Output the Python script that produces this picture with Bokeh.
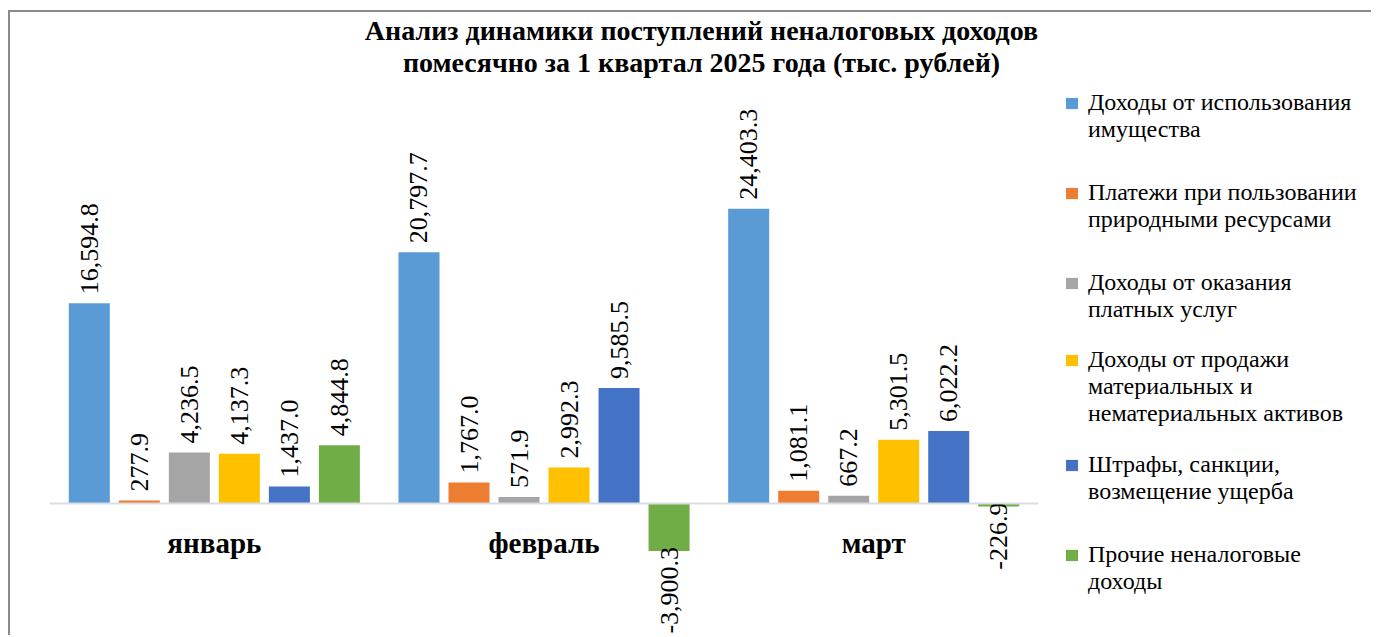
import numpy as np
from bokeh.plotting import figure
from bokeh.models import Range1d, Legend, LegendItem, Label, FixedTicker
from bokeh.core.properties import value
from bokeh.embed import file_html
from bokeh.resources import INLINE

# ---------------- data ----------------
months = ["январь", "февраль", "март"]
series_names = [
    "Доходы от использования\nимущества",
    "Платежи при пользовании\nприродными ресурсами",
    "Доходы от оказания\nплатных услуг",
    "Доходы от продажи\nматериальных и\nнематериальных активов",
    "Штрафы, санкции,\nвозмещение ущерба",
    "Прочие неналоговые\nдоходы",
]
property_income = [16594.8, 20797.7, 24403.3]
natural_resources = [277.9, 1767.0, 1081.1]
paid_services = [4236.5, 571.9, 667.2]
asset_sales = [4137.3, 2992.3, 5301.5]
fines = [1437.0, 9585.5, 6022.2]
other_income = [4844.8, -3900.3, -226.9]
title_text = "Анализ динамики поступлений неналоговых доходов\nпомесячно за 1 квартал 2025 года (тыс. рублей)"

series_values = [property_income, natural_resources, paid_services,
                 asset_sales, fines, other_income]
colors = ["#5b9bd5", "#ed7d31", "#a5a5a5", "#ffc000", "#4472c4", "#70ad47"]

# ---------------- layout ----------------
W, H = 1363, 625
CANVAS_TOP = 12
STEP = 0.1517
BAR_W = 0.1244
SERIF = "Liberation Serif"
LEG_X = 1054
LEG_LINE_H = 27
LEG_FIRST_LINE_Y = [102, 193, 283, 360, 465, 555]   # page pixel rows (layout)

p = figure(width=W, height=H, output_backend="svg", toolbar_location=None,
           x_range=Range1d(-0.6183, 3.516), y_range=Range1d(-11059, 40637),
           min_border=0)
p.styles = {"border-top": "2px solid #898989", "border-left": "2px solid #898989",
            "margin-top": "10px", "margin-left": "8px"}
p.outline_line_color = None
p.grid.visible = False
p.yaxis.visible = False
p.background_fill_color = "white"

# invisible renderer used for the continuation lines of the legend labels
blank = p.vbar(x=[], top=[], width=BAR_W, fill_color=None, line_color=None)

idx = np.arange(len(months))
n = len(series_values)
for i, (vals, col, name) in enumerate(zip(series_values, colors, series_names)):
    xs = idx + (i - (n - 1) / 2) * STEP
    r = p.vbar(x=xs, top=vals, bottom=0, width=BAR_W, fill_color=col, line_color=None)

    lines = name.split("\n")
    leg_items = [LegendItem(label=lines[0], renderers=[r])]
    leg_items += [LegendItem(label=t, renderers=[blank]) for t in lines[1:]]
    bottom_px = LEG_FIRST_LINE_Y[i] - LEG_LINE_H / 2 + LEG_LINE_H * len(lines)
    vy = int(round(CANVAS_TOP + H - bottom_px))
    leg = Legend(items=leg_items, location=(LEG_X, vy), orientation="vertical",
                 glyph_width=15, glyph_height=14, label_standoff=9,
                 label_text_font=SERIF, label_text_font_size="24px",
                 label_height=LEG_LINE_H, spacing=0, padding=0, margin=0,
                 border_line_color=None, background_fill_alpha=0,
                 label_text_color="black")
    p.add_layout(leg)

    vals = np.array(vals)
    pos = vals >= 0
    labels = ["{:,.1f}".format(v) for v in vals]
    if pos.any():
        p.text(x=xs[pos], y=vals[pos], text=[l for l, k in zip(labels, pos) if k],
               angle=np.pi / 2, text_align="left", text_baseline="middle",
               y_offset=-9, text_font=value(SERIF), text_font_size="26px",
               text_color="black")
    if (~pos).any():
        p.text(x=xs[~pos], y=vals[~pos], text=[l for l, k in zip(labels, pos) if not k],
               angle=np.pi / 2, text_align="right", text_baseline="middle",
               y_offset=-4, text_font=value(SERIF), text_font_size="26px",
               text_color="black")

ax = p.xaxis[0]
ax.fixed_location = 0
ax.bounds = (-0.5, len(months) - 0.5)
ax.ticker = FixedTicker(ticks=list(idx))
ax.major_label_overrides = {int(i): m for i, m in zip(idx, months)}
ax.major_tick_line_color = None
ax.minor_tick_line_color = None
ax.axis_line_color = "#d9dde3"
ax.axis_line_width = 2
ax.major_label_text_font = SERIF
ax.major_label_text_font_style = "bold"
ax.major_label_text_font_size = "29px"
ax.major_label_text_color = "black"
ax.major_label_standoff = 17

title = Label(x=691, y=591, x_units="screen", y_units="screen", text=title_text,
              text_align="center", text_baseline="middle", text_font=SERIF,
              text_font_style="bold", text_font_size="28px", text_line_height=1.05,
              text_color="black")
p.add_layout(title)

open("out.html", "w").write(file_html(p, INLINE))
